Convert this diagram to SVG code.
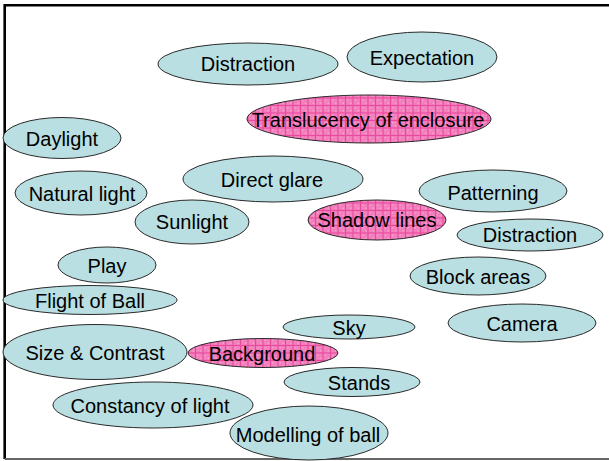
<svg xmlns="http://www.w3.org/2000/svg" width="609" height="461" viewBox="0 0 609 461">
<style>
.n{fill:#B9DFE2;stroke:#2a2a2a;stroke-width:1}
.p{fill:url(#pk);stroke:#2a2a2a;stroke-width:1}
text{font-family:"Liberation Sans",Arial,sans-serif;font-size:20px;fill:#000;text-anchor:middle}
</style>
<defs>
<pattern id="pk" width="7.5" height="7.5" patternUnits="userSpaceOnUse">
<rect width="7.5" height="7.5" fill="#F27CBB"/>
<rect x="2" y="2" width="1.5" height="1.5" fill="#F8A6D2"/>
<rect x="5" y="5" width="1.5" height="1.5" fill="#F8A6D2"/>
<rect x="5" y="2" width="1" height="1" fill="#F596C9"/>
<rect x="2" y="5" width="1" height="1" fill="#F596C9"/>
<path d="M0 0.5H7.5M0.5 0V7.5" stroke="#E8489C" stroke-width="1"/>
</pattern>
</defs>
<rect width="609" height="461" fill="#fff"/>
<path d="M612 5.3H4.7V459" fill="none" stroke="#000" stroke-width="2.6"/>
<path d="M4.7 459H612" fill="none" stroke="#666" stroke-width="2"/>
<g id="connectors"></g>
<g id="distraction1"><ellipse class="n" cx="248" cy="64" rx="90" ry="21"/><text x="248" y="71">Distraction</text></g>
<g id="expectation"><ellipse class="n" cx="422" cy="57" rx="75" ry="25"/><text x="422" y="65">Expectation</text></g>
<g id="translucency"><ellipse class="p" cx="369" cy="119" rx="122" ry="24"/><text x="368" y="127">Translucency of enclosure</text></g>
<g id="daylight"><ellipse class="n" cx="62" cy="138" rx="59" ry="20.5"/><text x="62" y="146">Daylight</text></g>
<g id="naturallight"><ellipse class="n" cx="81" cy="193" rx="66" ry="22"/><text x="82" y="201">Natural light</text></g>
<g id="directglare"><ellipse class="n" cx="273" cy="179" rx="90" ry="23"/><text x="272" y="187">Direct glare</text></g>
<g id="sunlight"><ellipse class="n" cx="192" cy="222" rx="57" ry="22"/><text x="192" y="229">Sunlight</text></g>
<g id="shadowlines"><ellipse class="p" cx="377" cy="220" rx="69" ry="20"/><text x="377" y="227">Shadow lines</text></g>
<g id="patterning"><ellipse class="n" cx="493" cy="191" rx="74" ry="21"/><text x="493" y="200">Patterning</text></g>
<g id="distraction2"><ellipse class="n" cx="530" cy="235" rx="73" ry="16"/><text x="530" y="242">Distraction</text></g>
<g id="blockareas"><ellipse class="n" cx="478" cy="276" rx="68" ry="19"/><text x="478" y="284">Block areas</text></g>
<g id="camera"><ellipse class="n" cx="522" cy="323" rx="74" ry="19"/><text x="522" y="331">Camera</text></g>
<g id="play"><ellipse class="n" cx="107" cy="265" rx="49" ry="18"/><text x="107" y="273">Play</text></g>
<g id="flightofball"><ellipse class="n" cx="90" cy="300" rx="87" ry="14.5"/><text x="90" y="308">Flight of Ball</text></g>
<g id="sizecontrast"><ellipse class="n" cx="95" cy="352" rx="92" ry="27.5"/><text x="95" y="360">Size &amp; Contrast</text></g>
<g id="background"><ellipse class="p" cx="263" cy="353" rx="75" ry="14.5"/><text x="262" y="361">Background</text></g>
<g id="sky"><ellipse class="n" cx="349" cy="327" rx="66" ry="12"/><text x="349" y="335">Sky</text></g>
<g id="stands"><ellipse class="n" cx="352" cy="382" rx="68" ry="14.5"/><text x="359" y="390">Stands</text></g>
<g id="constancy"><ellipse class="n" cx="153" cy="405" rx="100" ry="23"/><text x="150" y="413">Constancy of light</text></g>
<g id="modelling"><ellipse class="n" cx="309" cy="433" rx="79" ry="27"/><text x="308" y="442">Modelling of ball</text></g>
</svg>
